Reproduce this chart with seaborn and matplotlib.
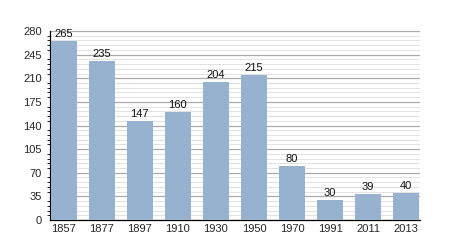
import matplotlib
matplotlib.use("Agg")
import matplotlib.pyplot as plt
import seaborn as sns
import pandas as pd
from matplotlib.ticker import MultipleLocator

years = ["1857", "1877", "1897", "1910", "1930", "1950", "1970", "1991", "2011", "2013"]
values = [265, 235, 147, 160, 204, 215, 80, 30, 39, 40]
yticks = [0, 35, 70, 105, 140, 175, 210, 245, 280]

df = pd.DataFrame({"year": years, "value": values})

sns.set_style("white")
plt.rcParams['font.family'] = ['Liberation Sans', 'DejaVu Sans']

fig = plt.figure(figsize=(4.5, 2.5), dpi=100)
ax = fig.add_axes([0.111, 0.12, 0.822, 0.756])

sns.barplot(data=df, x="year", y="value", color="#97b2cf", saturation=1,
            width=0.69, ax=ax, zorder=3, linewidth=0)

ax.set_ylim(0, 280)
ax.set_xlim(-0.36, 9.36)
ax.set_yticks(yticks)
ax.yaxis.set_minor_locator(MultipleLocator(7))
ax.grid(axis="y", which="major", color="#aaaaaa", linewidth=0.9, zorder=0)
ax.grid(axis="y", which="minor", color="#dddddd", linewidth=0.6, zorder=0)
ax.set_axisbelow(True)

for s in ["top", "right"]:
    ax.spines[s].set_visible(False)
ax.spines["left"].set_color("black")
ax.spines["bottom"].set_color("black")
ax.spines["left"].set_linewidth(0.9)
ax.spines["bottom"].set_linewidth(0.9)

ax.tick_params(axis="y", which="major", length=4, width=0.8, labelsize=8, color="black", pad=2)
ax.tick_params(axis="y", which="minor", length=2, width=0.6, color="black", left=True)
ax.tick_params(axis="x", length=0, labelsize=8, pad=3)
ax.set_xlabel("")
ax.set_ylabel("")

for i, v in enumerate(values):
    ax.text(i, v + 3, str(v), ha="center", va="bottom", fontsize=8, color="#111111")

fig.savefig("out.png", dpi=100)
